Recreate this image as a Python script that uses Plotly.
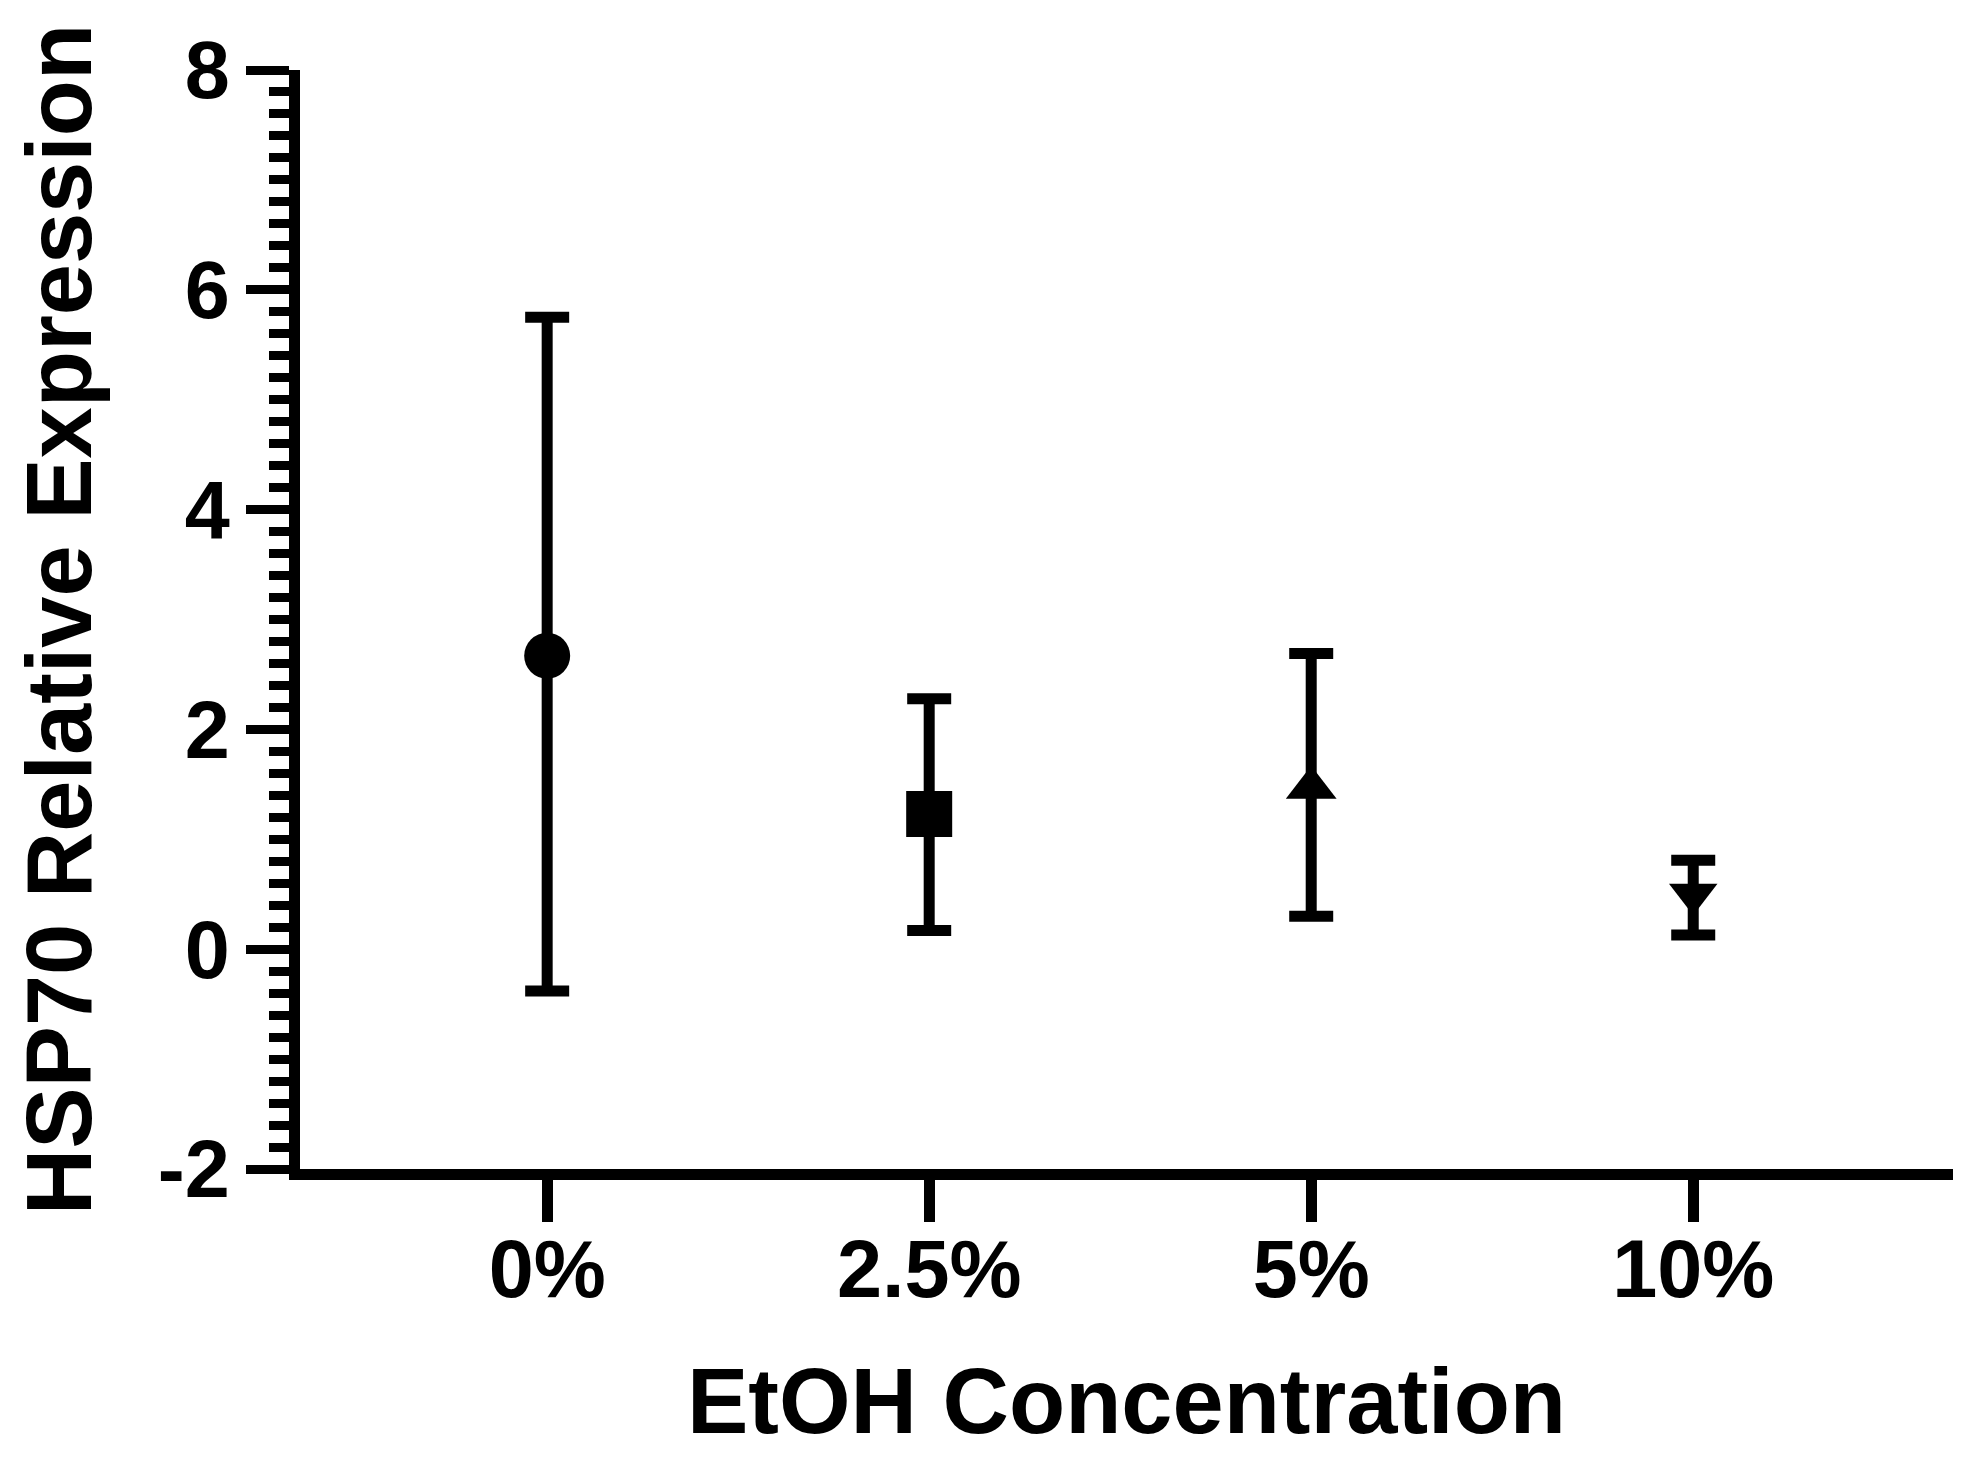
import plotly.graph_objects as go

categories = ["0%", "2.5%", "5%", "10%"]
means = [2.67, 1.23, 1.47, 0.50]
upper = [5.75, 2.28, 2.69, 0.81]
lower = [-0.38, 0.17, 0.30, 0.13]
symbols = ["circle", "square", "triangle-up", "triangle-down"]
sizes = [46, 46, 44, 42]

y_tickvals = [-2, 0, 2, 4, 6, 8]
y_ticktext = ["-2", "0", "2", "4", "6", "8"]

x_pos = list(range(len(categories)))

fig = go.Figure()
for i in x_pos:
    fig.add_trace(go.Scatter(
        x=[x_pos[i]], y=[means[i]], mode="markers",
        marker=dict(symbol=symbols[i], size=sizes[i], color="black",
                    line=dict(width=0)),
        error_y=dict(type="data", symmetric=False,
                     array=[upper[i] - means[i]],
                     arrayminus=[means[i] - lower[i]],
                     color="black", thickness=11, width=22),
        showlegend=False, cliponaxis=False,
    ))

font_family = "Liberation Sans, Arial, sans-serif"
fig.update_layout(
    width=1965, height=1459,
    margin=dict(l=292, r=20, t=62, b=298),
    plot_bgcolor="white", paper_bgcolor="white",
    font=dict(family=font_family, color="black"),
    xaxis=dict(
        range=[-0.647, 3.68], tickvals=x_pos, ticktext=categories,
        showline=True, linecolor="black", linewidth=11,
        ticks="outside", ticklen=42, tickwidth=11, tickcolor="black",
        tickfont=dict(size=81, family=font_family, weight="bold"),
        ticklabelstandoff=-22,
        showgrid=False, zeroline=False,
        title=dict(text="<b>EtOH Concentration</b>",
                   font=dict(size=92, family=font_family), standoff=60),
    ),
    yaxis=dict(
        range=[-2, 8], tickvals=y_tickvals, ticktext=y_ticktext,
        showline=True, linecolor="black", linewidth=11,
        ticks="outside", ticklen=43, tickwidth=9, tickcolor="black",
        minor=dict(dtick=0.2, tick0=-2, ticks="outside", ticklen=20,
                   tickwidth=9, tickcolor="black"),
        tickfont=dict(size=81, family=font_family, weight="bold"),
        ticklabelstandoff=0,
        showgrid=False, zeroline=False,
        title=dict(text="<b>HSP70 Relative Expression</b>",
                   font=dict(size=92, family=font_family), standoff=42),
    ),
)

fig.write_html("out.html")
